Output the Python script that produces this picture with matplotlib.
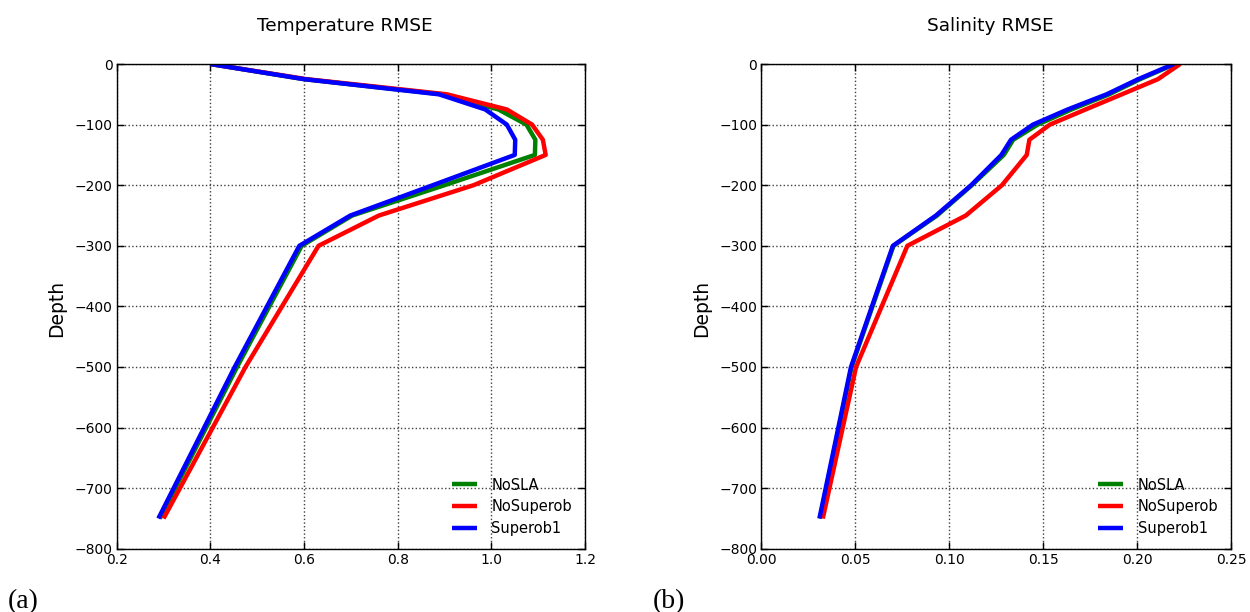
import matplotlib
matplotlib.use("Agg")
import matplotlib.pyplot as plt
import numpy as np

# Depth levels (m, positive down) at which RMSE profiles are evaluated
depths = np.array([0, 25, 50, 75, 100, 125, 150, 200, 250, 300, 500, 750])

# Temperature RMSE per experiment
temp_nosla = [0.400, 0.600, 0.895, 1.015, 1.075, 1.094, 1.093, 0.900, 0.703, 0.595, 0.457, 0.292]
temp_nosuperob = [0.400, 0.605, 0.905, 1.033, 1.087, 1.110, 1.116, 0.962, 0.760, 0.631, 0.475, 0.300]
temp_superob1 = [0.400, 0.600, 0.888, 0.987, 1.033, 1.051, 1.050, 0.875, 0.699, 0.590, 0.452, 0.289]

# Salinity RMSE per experiment
sal_nosla = [0.2200, 0.2015, 0.1850, 0.1650, 0.1470, 0.1340, 0.1290, 0.1120, 0.0935, 0.0703, 0.0480, 0.0312]
sal_nosuperob = [0.2228, 0.2110, 0.1918, 0.1725, 0.1535, 0.1426, 0.1412, 0.1280, 0.1088, 0.0777, 0.0504, 0.0327]
sal_superob1 = [0.2195, 0.2005, 0.1837, 0.1630, 0.1445, 0.1328, 0.1277, 0.1116, 0.0929, 0.0700, 0.0477, 0.0309]

labels = ["NoSLA", "NoSuperob", "Superob1"]
colors = ["g", "r", "b"]

temp_xticks = [0.2, 0.4, 0.6, 0.8, 1.0, 1.2]
sal_xticks = [0.00, 0.05, 0.10, 0.15, 0.20, 0.25]
yticks = [0, -100, -200, -300, -400, -500, -600, -700, -800]

W, H = 1250, 612
fig = plt.figure(figsize=(W / 100, H / 100), dpi=100)

ax_bottom = 1 - 548.8 / H
ax_height = (548.8 - 64) / H
ax_t = fig.add_axes([116.7 / W, ax_bottom, 468.3 / W, ax_height])
ax_s = fig.add_axes([761.3 / W, ax_bottom, 470.0 / W, ax_height])


def draw_panel(ax, series, title, xticks, fmt):
    for vals, lab, col in zip(series, labels, colors):
        ax.plot(vals, -depths, color=col, lw=3.2, label=lab, solid_capstyle="butt")
    ax.set_xlim(xticks[0], xticks[-1])
    ax.set_ylim(-800, 0)
    ax.set_xticks(xticks)
    ax.set_xticklabels([fmt.format(v) for v in xticks])
    ax.set_yticks(yticks)
    ax.grid(True, linestyle=":", color="0.25", linewidth=1.0)
    ax.tick_params(direction="in", top=True, right=True, length=5, width=1,
                   labelsize=10, pad=3)
    for sp in ax.spines.values():
        sp.set_linewidth(1.0)
    ax.set_title(title, fontsize=13.3, pad=23.8, x=0.487)
    ax.set_ylabel("Depth", fontsize=13.5)
    ax.yaxis.set_label_coords(-0.107, 0.495)
    ax.legend(loc="lower right", frameon=False, fontsize=10.5, handlelength=1.7,
              handletextpad=1.0, labelspacing=0.45, borderaxespad=0.5, borderpad=0.4)


draw_panel(ax_t, [temp_nosla, temp_nosuperob, temp_superob1], "Temperature RMSE",
           temp_xticks, "{:.1f}")
draw_panel(ax_s, [sal_nosla, sal_nosuperob, sal_superob1], "Salinity RMSE",
           sal_xticks, "{:.2f}")

fig.text(8 / W, 0.006, "(a)", family="Liberation Serif", fontsize=20, va="baseline")
fig.text(653 / W, 0.006, "(b)", family="Liberation Serif", fontsize=20, va="baseline")

fig.savefig("out.png", dpi=100, facecolor="white")
